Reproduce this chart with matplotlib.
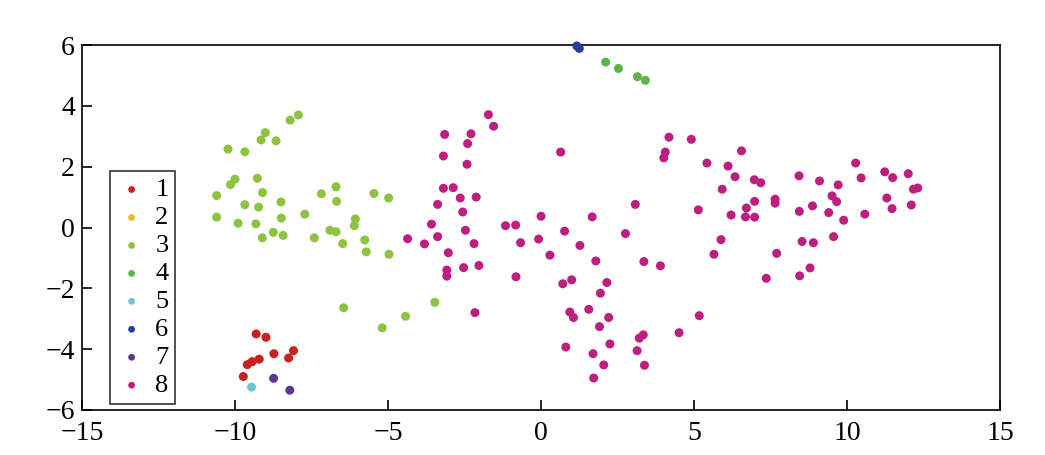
import matplotlib
matplotlib.use("Agg")
import matplotlib.pyplot as plt

plt.rcParams['font.family'] = ['Liberation Serif', 'DejaVu Serif']

labels = ['1', '2', '3', '4', '5', '6', '7', '8']
colors = ['#C8211F', '#E9BE22', '#8DC33E', '#5DB44A', '#6EC6D1', '#22409A', '#5D3593', '#BD1E80']

x1 = [-9.31, -8.99, -8.73, -8.09, -8.25, -9.60, -9.44, -9.21, -9.73]
y1 = [-3.50, -3.61, -4.15, -4.05, -4.29, -4.51, -4.41, -4.33, -4.90]

x2 = []
y2 = []

x3 = [-7.93, -8.20, -9.01, -9.15, -8.66, -10.23, -9.68, -10.0, -10.15, -9.27,
      -10.60, -9.10, -8.50, -9.68, -9.23, -10.60, -9.90, -9.32, -8.49, -8.75,
      -8.43, -9.11, -7.72, -7.18, -6.70, -6.68, -7.41, -6.90, -6.70, -6.07,
      -6.10, -6.48, -5.76, -5.71, -5.46, -4.98, -4.97, -6.45, -5.19, -4.43, -3.47]
y3 = [3.70, 3.53, 3.12, 2.88, 2.85, 2.58, 2.49, 1.59, 1.41, 1.62,
      1.05, 1.15, 0.84, 0.75, 0.67, 0.34, 0.14, 0.12, 0.31, -0.16,
      -0.26, -0.34, 0.44, 1.11, 1.34, 0.86, -0.34, -0.09, -0.14, 0.28,
      0.06, -0.53, -0.41, -0.80, 1.12, 0.97, -0.88, -2.64, -3.30, -2.92, -2.46]

x4 = [2.11, 2.53, 3.15, 3.41]
y4 = [5.44, 5.23, 4.96, 4.84]

x5 = [-9.46]
y5 = [-5.25]

x6 = [1.17, 1.25]
y6 = [5.97, 5.89]

x7 = [-8.74, -8.21]
y7 = [-4.96, -5.35]

x8 = [-3.15, -3.19, -3.19, -3.38, -3.58, -3.38, -4.36, -3.81, -3.03, -3.08, -3.08,
      -1.72, -1.55, -2.29, -2.40, -2.42, 0.64, -2.87, -2.64, -2.12, -2.56, -2.47,
      -2.19, -2.53, -2.03, -1.16, -0.83, 0.0, -0.67, -0.08, 0.77, 1.67, 3.08, 2.76,
      1.27, 0.29, 1.79, -0.82, 0.71, 1.00, 2.15, 1.94,
      3.36, 3.90, 0.94, 1.06, 1.56, 2.21, 1.91, 3.21, 3.34, 4.51, 0.81, 2.25, 1.70,
      3.14, 2.05, 3.38, 1.72,
      4.18, 4.91, 4.06, 4.01, 6.55, 5.42, 6.11, 6.34, 6.97, 7.18, 5.92, 8.43, 9.10,
      7.65, 7.65, 6.98, 6.71, 6.21, 6.68, 6.98, 8.44, 8.87, 5.14, 5.88, 5.65, 8.53,
      8.90, 7.70, 7.36, 8.45, 8.79, 5.17,
      10.28, 9.71, 10.46, 11.23, 11.49, 12.0, 12.17, 12.31, 9.51, 9.66, 9.40, 9.89,
      10.58, 11.30, 11.47, 12.10, 9.56, -2.16]
y8 = [3.06, 2.35, 1.29, 0.76, 0.11, -0.30, -0.37, -0.54, -0.83, -1.40, -1.60,
      3.71, 3.33, 3.08, 2.76, 2.08, 2.48, 1.31, 0.97, 1.00, 0.51, -0.09,
      -0.53, -1.32, -1.25, 0.06, 0.08, 0.37, -0.50, -0.38, -0.12, 0.35, 0.76, -0.20,
      -0.59, -0.91, -1.10, -1.62, -1.85, -1.72, -1.81, -2.16,
      -1.12, -1.26, -2.78, -2.96, -2.69, -2.96, -3.26, -3.64, -3.53, -3.46, -3.93, -3.83, -4.15,
      -4.05, -4.52, -4.53, -4.95,
      2.97, 2.90, 2.48, 2.29, 2.52, 2.12, 2.02, 1.67, 1.57, 1.47, 1.26, 1.70, 1.53,
      0.93, 0.80, 0.86, 0.64, 0.41, 0.35, 0.34, 0.53, 0.71, 0.58, -0.40, -0.88, -0.46,
      -0.50, -0.85, -1.67, -1.59, -1.33, -2.90,
      2.12, 1.40, 1.63, 1.83, 1.64, 1.77, 1.26, 1.30, 1.04, 0.85, 0.49, 0.24,
      0.44, 0.97, 0.62, 0.74, -0.30, -2.80]

xs = [x1, x2, x3, x4, x5, x6, x7, x8]
ys = [y1, y2, y3, y4, y5, y6, y7, y8]

fig = plt.figure(figsize=(10.45, 4.55), dpi=100)
ax = fig.add_axes([0.0785, 0.099, 0.8785, 0.802])

for x, y, c, lab in zip(xs, ys, colors, labels):
    ax.scatter(x, y, s=42, color=c, edgecolors='none', label=lab,
               clip_on=(len(x) == 0), zorder=3)

ax.set_xlim(-15, 15)
ax.set_ylim(-6, 6)
ax.set_xticks([-15, -10, -5, 0, 5, 10, 15])
ax.set_yticks([-6, -4, -2, 0, 2, 4, 6])
ax.set_xticklabels(['\u221215', '\u221210', '\u22125', '0', '5', '10', '15'])
ax.set_yticklabels(['\u22126', '\u22124', '\u22122', '0', '2', '4', '6'])
ax.tick_params(direction='in', length=7, width=1.2, labelsize=20, top=False, right=False)
ax.tick_params(axis='x', pad=8)
ax.tick_params(axis='y', pad=5)
for sp in ax.spines.values():
    sp.set_linewidth(1.2)

leg = ax.legend(loc='lower left', bbox_to_anchor=(0.031, 0.017), fontsize=19, markerscale=0.75,
                frameon=True, fancybox=False, edgecolor='black', handletextpad=0.35,
                borderpad=0.25, labelspacing=0.17, handlelength=1.1, borderaxespad=0)
leg.get_frame().set_linewidth(1.2)

fig.savefig('out.png', dpi=100)
